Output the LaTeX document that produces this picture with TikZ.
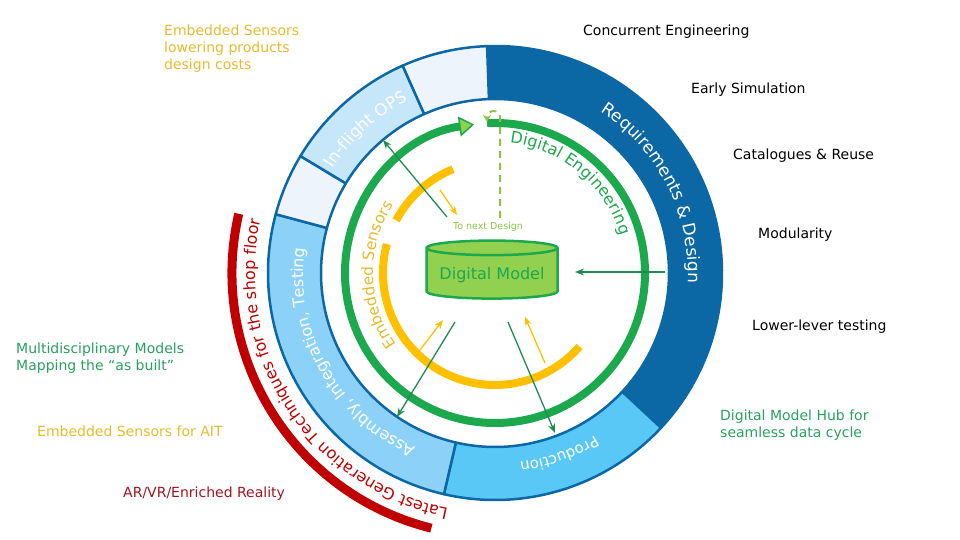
\documentclass[tikz,border=0pt]{standalone}
\usepackage{fontspec}
\setmainfont{DejaVu Sans}
\usetikzlibrary{calc}
\usetikzlibrary{positioning}
\usetikzlibrary{shapes.geometric, arrows.meta}

\definecolor{ringdark}{RGB}{12,104,164}
\definecolor{ringprod}{RGB}{90,200,246}
\definecolor{ringait}{RGB}{140,210,248}
\definecolor{ringops}{RGB}{198,230,249}
\definecolor{ringpale}{RGB}{238,244,251}
\definecolor{dgreen}{RGB}{28,168,76}
\definecolor{lgreen}{RGB}{146,208,80}
\definecolor{nextgreen}{RGB}{140,195,70}
\definecolor{arrowgreen}{RGB}{30,140,80}
\definecolor{sensyellow}{RGB}{255,192,0}
\definecolor{txtyellow}{RGB}{230,186,45}
\definecolor{txtgreen}{RGB}{40,160,95}
\definecolor{shopred}{RGB}{192,0,0}
\definecolor{txtred}{RGB}{160,20,30}

\tikzstyle{ringseg} = [draw=ringdark, line width=2.5pt, line join=round]
\tikzstyle{outlabel} = [anchor=west, align=left, inner sep=0pt,
font=\fontsize{14}{17}\selectfont]
\tikzstyle{datalink} = [arrowgreen, line width=1.3pt, -{Stealth[length=9pt,width=7pt]}]
\tikzstyle{sensorlink} = [sensyellow, line width=1.3pt, -{Stealth[length=9pt,width=7pt]}]

% one coloured part of the outer ring
\newcommand{\ringpart}[3]{%
  \filldraw[ringseg, fill=#3] (#1:227) arc[start angle=#1, end angle=#2, radius=227]
    -- (#2:174) arc[start angle=#2, end angle=#1, radius=174] -- cycle;}

% letters of a bent text, measured before the picture:
% \arcprepare{\list}{size}{text} stores \arcglyph{offset}{letter} pairs
\ExplSyntaxOn
\dim_new:N \l__arc_total_dim
\dim_new:N \l__arc_pos_dim
\box_new:N \l__arc_box
\str_new:N \l__arc_str
\tl_new:N \l__arc_tl
\cs_new_protected:Npn \__arc_measure:nn #1#2
  { \hbox_set:Nn \l__arc_box { \normalfont \fontsize{#1}{#1}\selectfont #2 } }
\NewDocumentCommand \arcprepare { m m m }
  {
    \str_set:Nn \l__arc_str {#3}
    \dim_zero:N \l__arc_total_dim
    \str_map_inline:Nn \l__arc_str
      {
        \__arc_measure:nn {#2} {##1}
        \dim_add:Nn \l__arc_total_dim { \box_wd:N \l__arc_box }
      }
    \dim_set:Nn \l__arc_pos_dim { -0.5\l__arc_total_dim }
    \tl_clear:N \l__arc_tl
    \str_map_inline:Nn \l__arc_str
      {
        \__arc_measure:nn {#2} {##1}
        \str_if_eq:nnF {##1} {~}
          {
            \tl_put_right:Nx \l__arc_tl
              {
                \exp_not:N \arcglyph
                  { \dim_to_decimal:n { \l__arc_pos_dim + 0.5\box_wd:N \l__arc_box } }
                  { \exp_not:n {##1} }
              }
          }
        \dim_add:Nn \l__arc_pos_dim { \box_wd:N \l__arc_box }
      }
    \tl_gset_eq:NN #1 \l__arc_tl
  }
\ExplSyntaxOff

% text bent along a circle, read clockwise, tops facing out
% #1 letters, #2 centre angle, #3 radius, #4 size, #5 colour
\newcommand{\arcplace}[5]{%
  \def\arcglyph##1##2{%
    \pgfmathsetmacro\glyphangle{#2-(##1)/(#3)*180/pi}%
    \node[anchor=base, inner sep=0pt, rotate=\glyphangle-90, text=#5,
      font=\fontsize{#4}{#4}\selectfont] at (\glyphangle:#3) {##2};}%
  #1}

\begin{document}
\arcprepare{\reqletters}{17}{Requirements & Design}
\arcprepare{\prodletters}{15}{Production}
\arcprepare{\aitletters}{16}{Assembly, Integration, Testing}
\arcprepare{\opsletters}{16.5}{In-flight OPS}
\arcprepare{\shopletters}{16}{Latest Generation Techniques for the shop floor}
\arcprepare{\engletters}{16}{Digital Engineering}
\arcprepare{\sensletters}{15.5}{Embedded Sensors}
\begin{tikzpicture}[x=1pt, y=1pt]
\useasboundingbox (0,0) rectangle (960,540);

\begin{scope}[shift={(495,267)}]
    % outer ring
    \ringpart{-43}{92}{ringdark}
    \ringpart{-103}{-43}{ringprod}
    \ringpart{165}{257}{ringait}
    \ringpart{149}{165}{ringpale}
    \ringpart{114}{149}{ringops}
    \ringpart{92}{114}{ringpale}

    \arcplace{\reqletters}{27}{193}{17}{white}
    \arcplace{\prodletters}{-70.5}{191}{15}{white}
    \arcplace{\aitletters}{209}{192}{16}{white}
    \arcplace{\opsletters}{132}{193}{16.5}{white}

    % shop floor arc, outside the ring
    \draw[shopred, line width=9pt] (167:263) arc[start angle=167, end angle=256, radius=263];
    \arcplace{\shopletters}{213}{240}{16}{shopred}

    % digital engineering loop
    \draw[dgreen, line width=8pt,
        -{Triangle[length=15pt,width=20pt,fill=lgreen,line width=1.5pt]}]
        (93:150) arc[start angle=93, end angle=-262, radius=150];
    \arcplace{\engletters}{50}{131}{16}{dgreen}

    % embedded sensors arcs
    \draw[sensyellow, line width=8pt] (112:112) arc[start angle=112, end angle=152, radius=112];
    \draw[sensyellow, line width=8pt] (165:112) arc[start angle=165, end angle=319, radius=112];
    \arcplace{\sensletters}{181}{122}{15.5}{txtyellow}
\end{scope}

% the model in the middle
\node[cylinder, shape border rotate=90, aspect=0.13, minimum width=131pt,
    minimum height=58pt, draw=dgreen, fill=lgreen, line width=2.5pt,
    text=dgreen, font=\fontsize{16}{16}\selectfont] (model) at (492,265) {Digital Model};
\node[text=nextgreen, font=\fontsize{9.5}{10}\selectfont] (nextdesign) at (488,313) {To next Design};

% loop back to the next design
\coordinate (loopstart) at (500,322);
\coordinate (loopend) at (487,418);
\draw[nextgreen, line width=2pt, dash pattern=on 7pt off 5pt, -{Stealth[length=7pt,width=8pt]}]
    (loopstart) -- (500,423) .. controls (500,431) and (487,431) .. (loopend);

% model data links
\coordinate (reqin) at (665,268);
\coordinate (modelin) at (575,268);
\coordinate (aitfrom) at (455,218);
\coordinate (aitto) at (397,123);
\coordinate (prodfrom) at (508,218);
\coordinate (prodto) at (555,107);
\coordinate (opsfrom) at (447,323);
\coordinate (opsto) at (383,400);
\draw[datalink] (reqin) -- (modelin);
\draw[datalink] (aitfrom) -- (aitto);
\draw[datalink] (prodfrom) -- (prodto);
\draw[datalink] (opsfrom) -- (opsto);

% sensor feeds
\coordinate (sensa) at (440,350);
\coordinate (sensaend) at (457,325);
\coordinate (sensb) at (420,190);
\coordinate (sensbend) at (443,220);
\coordinate (sensc) at (545,177);
\coordinate (senscend) at (525,223);
\draw[sensorlink] (sensa) -- (sensaend);
\draw[sensorlink] (sensb) -- (sensbend);
\draw[sensorlink] (sensc) -- (senscend);

% side notes
\node[outlabel, text=txtyellow] (costs) at (164,491) {Embedded Sensors\\lowering products\\design costs};
\node[outlabel] (concurrent) at (583,508) {Concurrent Engineering};
\node[outlabel] (earlysim) at (691,450) {Early Simulation};
\node[outlabel] (catalogues) at (733,384) {Catalogues \& Reuse};
\node[outlabel] (modularity) at (758,305) {Modularity};
\node[outlabel] (lowertest) at (752,213) {Lower-lever testing};
\node[outlabel, text=txtgreen] (hub) at (720,115) {Digital Model Hub for\\seamless data cycle};
\node[outlabel, text=txtgreen] (multi) at (16,181.5) {Multidisciplinary Models\\Mapping the “as built”};
\node[outlabel, text=txtyellow] (aitsens) at (37,109) {Embedded Sensors for AIT};
\node[outlabel, text=txtred] (arvr) at (123,46) {AR/VR/Enriched Reality};
\end{tikzpicture}
\end{document}
